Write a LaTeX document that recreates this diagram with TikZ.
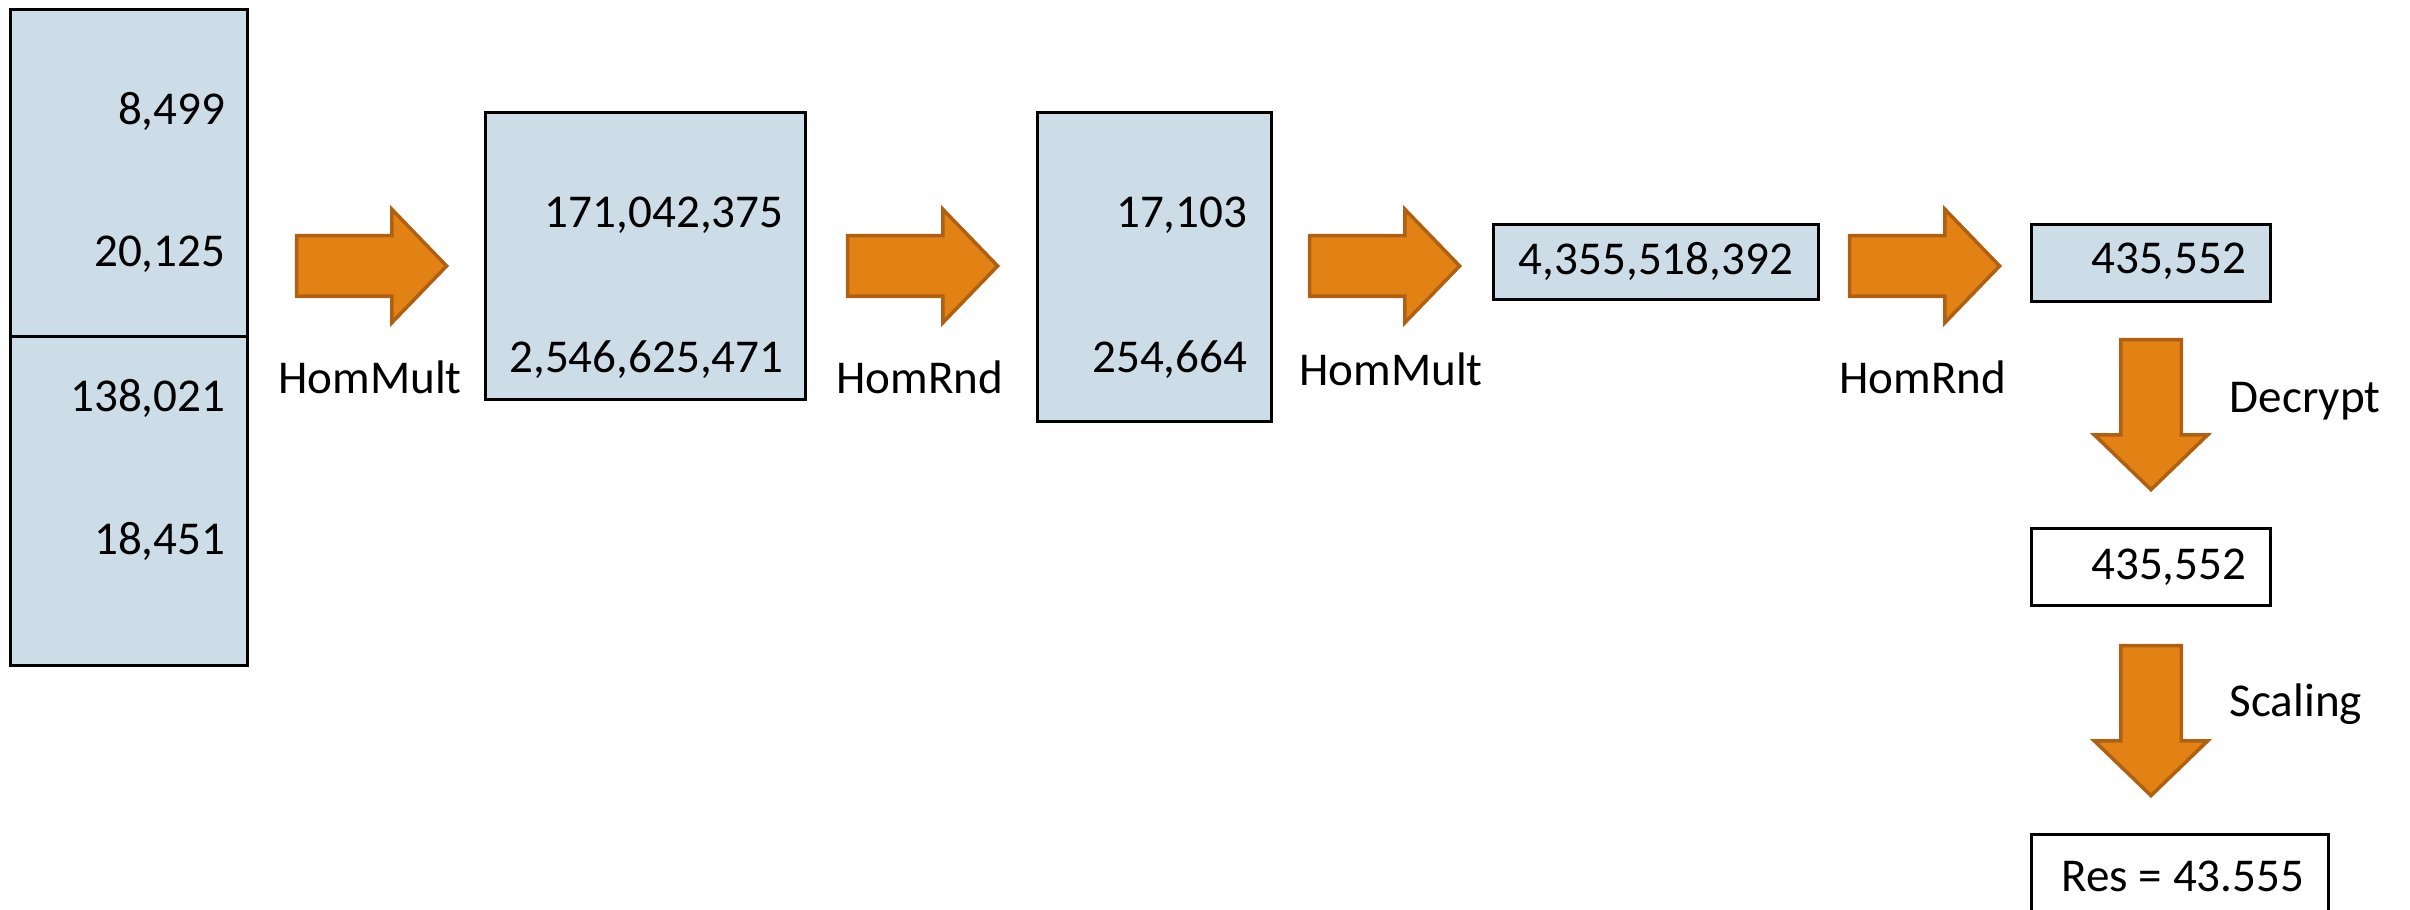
\documentclass[tikz,border=0pt]{standalone}
\usepackage{fontspec}
\setmainfont{Carlito}
\usepackage{tikz}
\usetikzlibrary{shapes.arrows}

\definecolor{cellblue}{RGB}{204,221,232}
\definecolor{oparrow}{RGB}{227,130,20}
\definecolor{oparrowline}{RGB}{176,96,18}

\tikzset{
  cell/.style={draw=black, thick, fill=cellblue, anchor=north west, inner sep=0pt},
  plaincell/.style={draw=black, thick, fill=white, anchor=north west, inner sep=0pt},
  num/.style={anchor=east, inner sep=0pt},
  opname/.style={inner sep=0pt},
  oparrow/.style={single arrow, draw=oparrowline, fill=oparrow, line width=1pt,
    minimum height=1.5cm, inner xsep=0pt, inner ysep=0.285cm,
    single arrow head extend=0.265cm, single arrow tip angle=92}
}

\begin{document}
\begin{tikzpicture}[font=\fontsize{13.4}{16}\selectfont]
        \useasboundingbox (0,0) rectangle (24.1,-9.1);

        %Input ciphertexts
        \node [cell, minimum width=2.37cm, minimum height=3.27cm] (inA) at (0.09,-0.08) {};
        \node [cell, minimum width=2.37cm, minimum height=3.29cm] (inB) at (0.09,-3.35) {};
        \node [num] (a1) at (2.26,-1.11) {8,499};
        \node [num] (a2) at (2.26,-2.54) {20,125};
        \node [num] (b1) at (2.26,-3.98) {138,021};
        \node [num] (b2) at (2.26,-5.41) {18,451};

        %First multiplication
        \node [oparrow] (m1) at (3.57,-2.66) {};
        \node [opname] (m1lbl) at (3.70,-3.77) {HomMult};
        \node [cell, minimum width=3.20cm, minimum height=2.87cm] (prod) at (4.84,-1.11) {};
        \node [num] (p1) at (7.84,-2.15) {171,042,375};
        \node [num] (p2) at (7.84,-3.60) {2,546,625,471};

        %First rounding
        \node [oparrow] (r1) at (9.08,-2.66) {};
        \node [opname] (r1lbl) at (9.20,-3.77) {HomRnd};
        \node [cell, minimum width=2.34cm, minimum height=3.09cm] (rnd) at (10.36,-1.11) {};
        \node [num] (q1) at (12.48,-2.15) {17,103};
        \node [num] (q2) at (12.48,-3.60) {254,664};

        %Second multiplication
        \node [oparrow] (m2) at (13.70,-2.66) {};
        \node [opname] (m2lbl) at (13.91,-3.69) {HomMult};
        \node [cell, minimum width=3.25cm, minimum height=0.75cm] (sum) at (14.92,-2.23) {};
        \node [opname] (s1) at (sum.center) {4,355,518,392};

        %Second rounding
        \node [oparrow] (r2) at (19.10,-2.66) {};
        \node [opname] (r2lbl) at (19.23,-3.77) {HomRnd};
        \node [cell, minimum width=2.39cm, minimum height=0.77cm] (enc) at (20.30,-2.23) {};
        \node [num] (e1) at (22.47,-2.61) {435,552};

        %Decryption
        \node [oparrow, rotate=-90] (dec) at (21.51,-4.00) {};
        \node [opname, anchor=west] (declbl) at (22.29,-4.01) {Decrypt};
        \node [plaincell, minimum width=2.39cm, minimum height=0.77cm] (plain) at (20.30,-5.27) {};
        \node [num] (pl1) at (22.47,-5.67) {435,552};

        %Scaling
        \node [oparrow, rotate=-90] (scl) at (21.51,-7.06) {};
        \node [opname, anchor=west] (scllbl) at (22.29,-7.04) {Scaling};
        \node [plaincell, minimum width=2.97cm, minimum height=1.2cm] (res) at (20.30,-8.33) {};
        \node [opname] (rs) at (21.83,-8.76) {Res = 43.555};

\end{tikzpicture}
\end{document}
